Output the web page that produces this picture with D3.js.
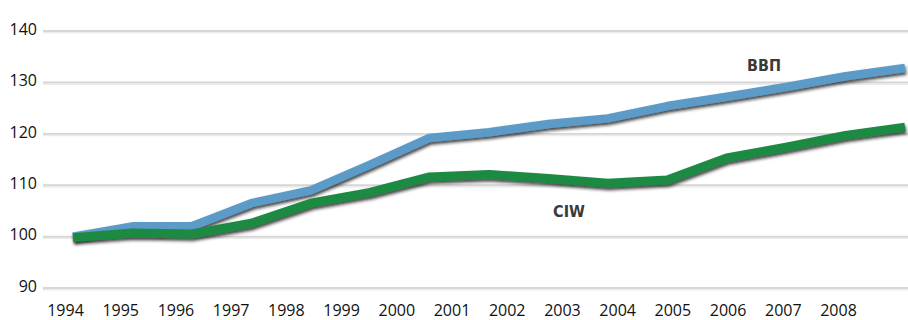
<!DOCTYPE html>
<html>
<head>
<meta charset="utf-8">
<script src="https://cdn.jsdelivr.net/npm/d3@7"></script>
<style>
  html, body { margin: 0; padding: 0; background: #fff; }
  svg { display: block; }
</style>
</head>
<body>
<svg id="chart" width="908" height="320"></svg>
<script>
const years = [1994,1995,1996,1997,1998,1999,2000,2001,2002,2003,2004,2005,2006,2007,2008];
const gdpValues = [100, 102, 102, 106.5, 109, 114, 119.2, 120.3, 121.9, 123, 125.4, 127.2, 129.1, 131.2, 132.8];
const ciwValues = [99.8, 100.7, 100.5, 102.6, 106.5, 108.6, 111.6, 112.1, 111.3, 110.4, 111, 115.3, 117.4, 119.7, 121.3];
const yTicks = [90, 100, 110, 120, 130, 140];
const seriesNames = ["ВВП", "CIW"];

const svg = d3.select("#chart");
const W = 908, H = 320;

const y = d3.scaleLinear().domain([90, 140]).range([288, 31]);
// line points span wider than the label positions in the original
const xLine = d3.scalePoint().domain(years).range([73, 905]);
const xLabel = d3.scalePoint().domain(years).range([65, 838]);

const defs = svg.append("defs");
const f = defs.append("filter").attr("id", "shadow")
  .attr("x", "-10%").attr("y", "-30%").attr("width", "120%").attr("height", "160%");
f.append("feDropShadow").attr("dx", 1).attr("dy", 2.5).attr("stdDeviation", 1.5)
  .attr("flood-color", "#1a1a1a").attr("flood-opacity", 0.8);

// gridlines (with a soft shadow line below)
const grid = svg.append("g");
grid.selectAll("line.sh").data(yTicks).join("line").attr("class", "sh")
  .attr("x1", 43).attr("x2", W)
  .attr("y1", d => y(d) + 1.5).attr("y2", d => y(d) + 1.5)
  .attr("stroke", "#ececec").attr("stroke-width", 2);
grid.selectAll("line.g").data(yTicks).join("line").attr("class", "g")
  .attr("x1", 43).attr("x2", W)
  .attr("y1", d => y(d)).attr("y2", d => y(d))
  .attr("stroke", "#d6d6d6").attr("stroke-width", 1.8);

// y axis labels
const yAxis = d3.axisLeft(y).tickValues(yTicks).tickSize(0).tickPadding(0);
const gy = svg.append("g").attr("transform", "translate(37,0)").call(yAxis);
gy.select(".domain").remove();
gy.selectAll("text")
  .attr("font-family", "'Open Sans', sans-serif")
  .attr("font-size", 16)
  .attr("fill", "#111")
  .attr("text-anchor", "end")
  .attr("dy", "0.2em");

// x axis labels
const xAxis = d3.axisBottom(xLabel).tickSize(0).tickPadding(0);
const gx = svg.append("g").attr("transform", "translate(0,305)").call(xAxis);
gx.select(".domain").remove();
gx.selectAll("text")
  .attr("font-family", "'Open Sans', sans-serif")
  .attr("font-size", 16)
  .attr("fill", "#111");

const line = d3.line().x((d, i) => xLine(years[i])).y(d => y(d));

svg.append("path").datum(gdpValues)
  .attr("d", line)
  .attr("fill", "none")
  .attr("stroke", "#5b9bc8")
  .attr("stroke-width", 8.5)
  .attr("stroke-linejoin", "round")
  .attr("filter", "url(#shadow)");

svg.append("path").datum(ciwValues)
  .attr("d", line)
  .attr("fill", "none")
  .attr("stroke", "#1c8a42")
  .attr("stroke-width", 9)
  .attr("stroke-linejoin", "round")
  .attr("filter", "url(#shadow)");

// series labels
svg.append("text").attr("x", 764).attr("y", 71)
  .attr("text-anchor", "middle")
  .attr("font-family", "'Liberation Sans Narrow', 'DejaVu Sans Condensed', sans-serif")
  .attr("font-weight", "bold").attr("font-size", 16)
  .attr("fill", "#3a3a3a").text(seriesNames[0]);

svg.append("text").attr("x", 569).attr("y", 217)
  .attr("text-anchor", "middle")
  .attr("font-family", "'Liberation Sans Narrow', 'DejaVu Sans Condensed', sans-serif")
  .attr("font-weight", "bold").attr("font-size", 16)
  .attr("fill", "#3a3a3a").text(seriesNames[1]);
</script>
</body>
</html>
